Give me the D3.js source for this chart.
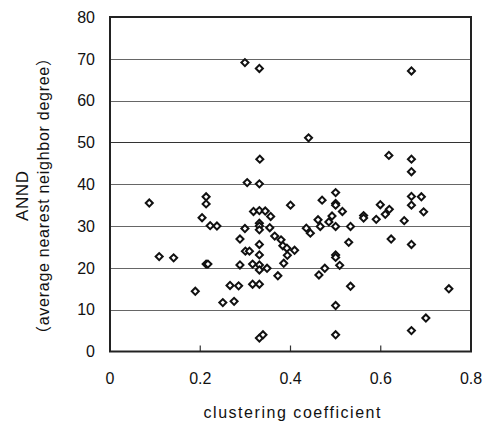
<!DOCTYPE html>
<html><head><meta charset="utf-8">
<script src="https://cdn.jsdelivr.net/npm/d3@7/dist/d3.min.js"></script>
<style>
html,body{margin:0;padding:0;background:#fff;}
svg{display:block;}
</style></head>
<body>
<svg id="chart" width="488" height="424"></svg>
<script>
const clusteringCoeff = [0.087,0.109,0.141,0.189,0.204,0.213,0.213,0.213,0.217,0.222,0.237,0.250,0.266,0.275,0.285,0.288,0.288,0.299,0.299,0.304,0.300,0.309,0.316,0.316,0.318,0.331,0.332,0.331,0.331,0.331,0.331,0.331,0.331,0.331,0.331,0.331,0.331,0.331,0.339,0.344,0.348,0.354,0.356,0.365,0.372,0.379,0.383,0.385,0.392,0.393,0.400,0.409,0.435,0.440,0.444,0.461,0.463,0.466,0.470,0.476,0.485,0.492,0.500,0.500,0.500,0.500,0.500,0.500,0.500,0.500,0.509,0.515,0.529,0.533,0.533,0.562,0.562,0.590,0.599,0.610,0.618,0.619,0.623,0.652,0.668,0.668,0.668,0.668,0.668,0.668,0.668,0.690,0.695,0.700,0.751];
const annd = [35.5,22.7,22.4,14.4,32.0,37.0,35.3,20.9,20.9,30.1,30.0,11.7,15.8,12.0,15.7,26.9,20.7,29.4,69.1,40.4,24.0,24.0,20.9,16.1,33.5,67.7,46.0,40.1,33.7,30.7,30.0,29.1,25.6,23.1,20.7,19.5,16.1,3.2,4.0,33.6,19.9,29.6,32.3,27.6,18.1,26.7,25.3,21.1,24.7,23.0,35.0,24.2,29.5,51.1,28.3,31.5,18.3,29.9,36.2,19.9,31.0,32.4,38.0,35.4,35.0,29.9,23.1,22.5,11.0,4.0,20.6,33.5,26.1,29.9,15.6,32.5,31.9,31.6,35.1,32.8,46.9,34.0,26.9,31.3,67.1,46.0,43.0,37.1,35.0,25.6,5.0,37.0,33.4,8.0,15.0];
const xTicks = [0, 0.2, 0.4, 0.6, 0.8];
const xTickLabels = ["0", "0.2", "0.4", "0.6", "0.8"];
const yTicks = [0, 10, 20, 30, 40, 50, 60, 70, 80];
const xTitle = "clustering coefficient";
const yTitle1 = "ANND";
const yTitle2 = "（average nearest neighbor degree）";

const svg = d3.select("#chart");
const x = d3.scaleLinear().domain([0, 0.8]).range([110, 471]);
const y = d3.scaleLinear().domain([0, 80]).range([351.5, 17]);

// gridlines
svg.append("g").selectAll("line").data(yTicks.filter(v => v > 0 && v < 80)).join("line")
  .attr("x1", x(0)).attr("x2", x(0.8))
  .attr("y1", d => Math.round(y(d)) + 0.5).attr("y2", d => Math.round(y(d)) + 0.5)
  .attr("stroke", d => d === 50 ? "#333" : "#666").attr("stroke-width", 1.2);

// inner x ticks
svg.append("g").selectAll("line").data(xTicks.filter(v => v > 0 && v < 0.8)).join("line")
  .attr("x1", d => x(d)).attr("x2", d => x(d))
  .attr("y1", y(0)).attr("y2", y(0) - 6)
  .attr("stroke", "#333").attr("stroke-width", 1.2);

// frame
svg.append("rect")
  .attr("x", x(0)).attr("y", y(80))
  .attr("width", x(0.8) - x(0)).attr("height", y(0) - y(80))
  .attr("fill", "none").attr("stroke", "#222").attr("stroke-width", 2);

// y tick labels
svg.append("g").selectAll("text").data(yTicks).join("text")
  .attr("x", 95).attr("y", d => y(d)).attr("dy", "0.36em")
  .attr("text-anchor", "end")
  .attr("font-family", "Liberation Sans, Arial, sans-serif").attr("font-size", 16).attr("fill", "#111")
  .text(d => d);

// x tick labels
svg.append("g").selectAll("text").data(xTicks).join("text")
  .attr("x", d => x(d)).attr("y", 384)
  .attr("text-anchor", "middle")
  .attr("font-family", "Liberation Sans, Arial, sans-serif").attr("font-size", 16).attr("fill", "#111")
  .text((d, i) => xTickLabels[i]);

// axis titles
svg.append("text")
  .attr("x", 292).attr("y", 418).attr("text-anchor", "middle")
  .attr("font-family", "Liberation Sans, Arial, sans-serif").attr("font-size", 16).attr("fill", "#111")
  .attr("textLength", 177).attr("lengthAdjust", "spacing")
  .text(xTitle);

svg.append("text")
  .attr("transform", "translate(28,196) rotate(-90)").attr("text-anchor", "middle")
  .attr("font-family", "Liberation Sans, Arial, sans-serif").attr("font-size", 17).attr("fill", "#111")
  .attr("textLength", 50).attr("lengthAdjust", "spacing")
  .text(yTitle1);

svg.append("text")
  .attr("transform", "translate(49,196) rotate(-90)").attr("text-anchor", "middle")
  .attr("font-family", "Liberation Sans, 'Noto Sans CJK JP', Arial, sans-serif").attr("font-size", 16).attr("fill", "#111")
  .attr("textLength", 292).attr("lengthAdjust", "spacing")
  .text(yTitle2);

// points
const sym = d3.symbol().type(d3.symbolSquare).size(25);
svg.append("g").selectAll("path").data(clusteringCoeff.map((c, i) => [c, annd[i]])).join("path")
  .attr("d", sym)
  .attr("transform", d => `translate(${x(d[0])},${y(d[1])}) rotate(45)`)
  .attr("fill", "#fff").attr("stroke", "#111").attr("stroke-width", 2);
</script>
</body></html>
